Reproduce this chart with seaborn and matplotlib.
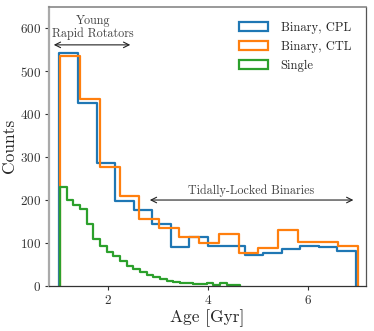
import numpy as np
import pandas as pd
import matplotlib
matplotlib.use("Agg")
import matplotlib.pyplot as plt
import seaborn as sns
from matplotlib.patches import Patch

# ---------------------------------------------------------
# DATA
# ---------------------------------------------------------
cpl_range = (1.03, 6.95)
cpl_counts = [543, 425, 287, 197, 177, 145, 90, 113, 92, 94, 73, 76, 86, 92, 91, 82]

ctl_range = (1.04, 6.99)
ctl_counts = [534, 436, 276, 210, 156, 136, 115, 99, 122, 77, 88, 131, 102, 102, 94]

single_range = (1.04, 4.64)
single_counts = [230, 201, 189, 179, 145, 109, 93, 80, 69, 57, 46, 39, 32, 26,
                 20, 16, 12, 9, 7, 6, 5, 4, 7, 3, 6, 3, 2]

labels = ["Binary, CPL", "Binary, CTL", "Single"]
colors = ["#1f77b4", "#ff7f0e", "#2ca02c"]

# ---------------------------------------------------------
# STYLE
# ---------------------------------------------------------
sns.set_style("ticks")
plt.rcParams["font.family"] = "serif"
plt.rcParams["font.serif"] = ["cmr10", "DejaVu Serif"]
plt.rcParams["mathtext.fontset"] = "cm"
plt.rcParams["axes.formatter.use_mathtext"] = True

fig, ax = plt.subplots(figsize=(3.74, 3.31), dpi=100)
fig.subplots_adjust(left=0.131, right=0.979, bottom=0.136, top=0.980)

for (lo, hi), counts, lab, col in zip([cpl_range, ctl_range, single_range],
                                      [cpl_counts, ctl_counts, single_counts],
                                      labels, colors):
    edges = np.linspace(lo, hi, len(counts) + 1)
    df = pd.DataFrame({"age": 0.5 * (edges[:-1] + edges[1:]), "n": counts})
    sns.histplot(data=df, x="age", weights="n", bins=list(edges), element="step",
                 fill=False, color=col, linewidth=1.6, ax=ax)
    # close the outline down to zero at both ends
    ax.vlines([edges[0], edges[-1]], 0, [counts[0], counts[-1]], color=col, lw=1.6)

ax.set_xlim(0.82, 7.16)
ax.set_ylim(0, 650)
ax.set_xticks([2, 4, 6])
ax.set_yticks([0, 100, 200, 300, 400, 500, 600])
ax.tick_params(labelsize=9.5, length=3, width=0.8, colors="#333333", pad=2.5)
ax.set_xlabel("Age [Gyr]", fontsize=12.5, labelpad=2)
ax.set_ylabel("Counts", fontsize=12.5, labelpad=2)

for side, c, w in [("left", "#aaaaaa", 1.6), ("top", "#888888", 1.2),
                   ("right", "#555555", 0.9), ("bottom", "#333333", 0.9)]:
    ax.spines[side].set_color(c)
    ax.spines[side].set_linewidth(w)

# annotations
ax.annotate("", xy=(0.86, 561), xytext=(2.5, 561),
            arrowprops=dict(arrowstyle="<->", color="#222222", lw=0.8))
ax.text(1.7, 572, "Young\nRapid Rotators", ha="center", va="bottom",
        fontsize=8.7, color="#444444", linespacing=1.1)

ax.annotate("", xy=(2.78, 200), xytext=(6.96, 200),
            arrowprops=dict(arrowstyle="<->", color="#222222", lw=0.8))
ax.text(4.86, 208, "Tidally-Locked Binaries", ha="center", va="bottom",
        fontsize=8.7, color="#444444")

handles = [Patch(facecolor="none", edgecolor=c, linewidth=1.6) for c in colors]
ax.legend(handles, labels, loc="upper right", frameon=False, fontsize=9,
          handlelength=2.3, handleheight=0.8, borderaxespad=0.8,
          labelspacing=0.55, handletextpad=1.0)

plt.savefig("out.png", dpi=100)
